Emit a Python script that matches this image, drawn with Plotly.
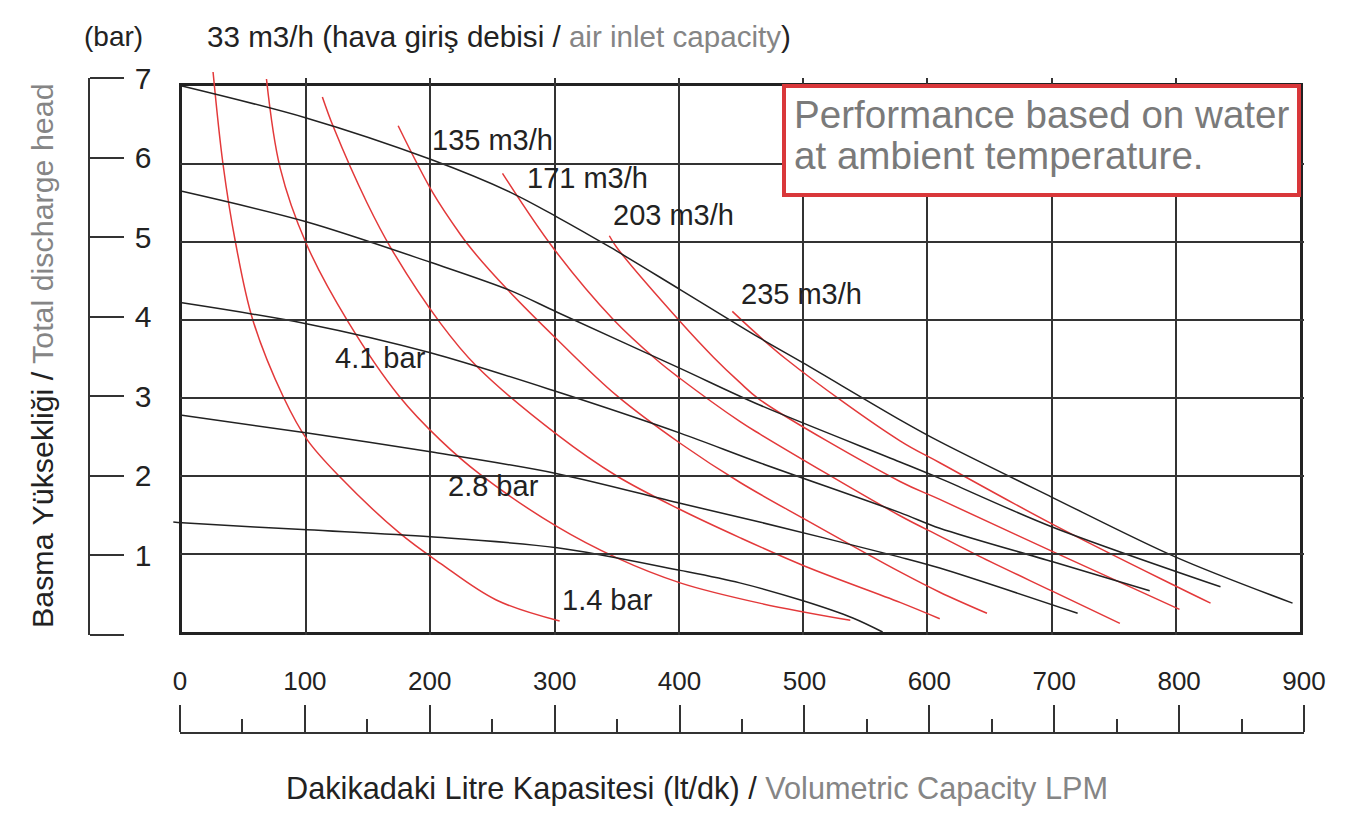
import plotly.graph_objects as go

# ---------------- data ----------------
x_ticks = [0, 100, 200, 300, 400, 500, 600, 700, 800, 900]
y_ticks = [0, 1, 2, 3, 4, 5, 6, 7]
y_tick_text = ["", "1", "2", "3", "4", "5", "6", "7"]

# black curves: air inlet pressure (bar)
p70_lpm = [0, 100, 200, 264, 302, 345, 401, 465, 500, 578, 610, 700, 800, 894]
p70_bar = [7.0, 6.59, 6.06, 5.64, 5.32, 4.93, 4.39, 3.77, 3.45, 2.72, 2.44, 1.73, 0.96, 0.37]
p55_lpm = [0, 100, 200, 264, 302, 401, 465, 578, 610, 700, 836]
p55_bar = [5.65, 5.26, 4.74, 4.38, 4.10, 3.38, 2.91, 2.18, 1.97, 1.35, 0.58]
p41_lpm = [0, 101, 200, 302, 401, 465, 578, 610, 701, 779]
p41_bar = [4.22, 3.95, 3.58, 3.08, 2.55, 2.17, 1.53, 1.33, 0.90, 0.53]
p28_lpm = [0, 101, 200, 302, 401, 465, 578, 610, 721]
p28_bar = [2.78, 2.55, 2.31, 2.03, 1.65, 1.41, 0.96, 0.82, 0.24]
p14_lpm = [-7, 0, 101, 200, 302, 401, 449, 500, 540, 564]
p14_bar = [1.41, 1.40, 1.31, 1.22, 1.08, 0.79, 0.63, 0.40, 0.18, 0.0]

# red curves: air consumption (m3/h)
a33_lpm = [25, 33, 43, 57, 82, 101, 127, 175, 208, 253, 304]
a33_bar = [7.18, 6.0, 5.0, 4.0, 3.0, 2.46, 1.99, 1.27, 0.88, 0.41, 0.14]
a69_lpm = [68, 79, 100, 134, 175, 208, 240, 302, 350, 401, 465, 538]
a69_bar = [7.09, 5.95, 4.98, 3.97, 3.02, 2.46, 2.02, 1.35, 0.95, 0.63, 0.37, 0.15]
a102_lpm = [113, 122, 149, 169, 208, 237, 302, 350, 401, 449, 502, 578, 610]
a102_bar = [6.86, 6.47, 5.50, 4.90, 3.96, 3.41, 2.53, 2.0, 1.57, 1.21, 0.84, 0.38, 0.17]
a135_lpm = [174, 202, 224, 234, 262, 302, 350, 401, 449, 502, 578, 610, 648]
a135_bar = [6.49, 5.63, 5.10, 4.89, 4.39, 3.75, 3.03, 2.42, 1.92, 1.44, 0.77, 0.51, 0.24]
a171_lpm = [258, 299, 347, 382, 401, 449, 465, 578, 610, 642, 701, 755]
a171_bar = [5.88, 4.92, 4.01, 3.49, 3.25, 2.70, 2.54, 1.49, 1.23, 0.97, 0.52, 0.11]
a203_lpm = [344, 350, 401, 428, 449, 465, 578, 610, 701, 803]
a203_bar = [5.08, 4.93, 3.98, 3.52, 3.20, 2.98, 1.93, 1.70, 1.03, 0.29]
a235_lpm = [443, 487, 578, 610, 701, 801, 828]
a235_bar = [4.11, 3.49, 2.45, 2.17, 1.38, 0.58, 0.37]

# curve labels (text, lpm of left edge, bar of centre)
label_text = ["69 m3/h", "135 m3/h", "171 m3/h", "203 m3/h", "235 m3/h",
              "4.1 bar", "2.8 bar", "1.4 bar"]
label_lpm = [68.0, 199.8, 276.2, 345.5, 448.5, 121.8, 212.6, 304.4]
label_bar = [7.17, 6.31, 5.82, 5.35, 4.33, 3.51, 1.87, 0.41]

black_curves = [(p70_lpm, p70_bar), (p55_lpm, p55_bar), (p41_lpm, p41_bar),
                (p28_lpm, p28_bar), (p14_lpm, p14_bar)]
red_curves = [(a33_lpm, a33_bar), (a69_lpm, a69_bar), (a102_lpm, a102_bar),
              (a135_lpm, a135_bar), (a171_lpm, a171_bar), (a203_lpm, a203_bar),
              (a235_lpm, a235_bar)]

# ---------------- layout geometry (pixels) ----------------
W, H = 1354, 839
PX_L, PX_R, PY_T, PY_B = 182, 1300, 86, 632      # main grid box
XMAX, YMAX = 900, 7
kx = (PX_R - PX_L) / XMAX
ky = (PY_B - PY_T) / YMAX
EX_L, EX_R, EY_T, EY_B = 160, 1320, 55, 650      # extended drawing area

def px(x):
    return x / W

def py(y):
    return 1 - y / H

DARK = "#222222"
GRAY = "#858585"
RED = "#e3393a"
FONT = "Liberation Sans, Arial, sans-serif"

fig = go.Figure()

# anchor traces (invisible) for the axis frames
fig.add_trace(go.Scatter(x=[0], y=[0], xaxis="x", yaxis="y", mode="markers",
                         marker=dict(opacity=0), hoverinfo="skip", showlegend=False))
fig.add_trace(go.Scatter(x=[0], y=[0], xaxis="x3", yaxis="y", mode="markers",
                         marker=dict(opacity=0), hoverinfo="skip", showlegend=False))
fig.add_trace(go.Scatter(x=[0], y=[0], xaxis="x", yaxis="y3", mode="markers",
                         marker=dict(opacity=0), hoverinfo="skip", showlegend=False))

for xs, ys in red_curves:
    fig.add_trace(go.Scatter(x=xs, y=ys, xaxis="x2", yaxis="y2", mode="lines",
                             line=dict(color=RED, width=1.5, shape="spline", smoothing=1.0),
                             hoverinfo="skip", showlegend=False))
for xs, ys in black_curves:
    fig.add_trace(go.Scatter(x=xs, y=ys, xaxis="x2", yaxis="y2", mode="lines",
                             line=dict(color=DARK, width=1.5, shape="spline", smoothing=0.9),
                             hoverinfo="skip", showlegend=False))

annotations = []
for t, lx, ly in zip(label_text, label_lpm, label_bar):
    annotations.append(dict(x=lx, y=ly, xref="x", yref="y", text=t, showarrow=False,
                            xanchor="left", yanchor="middle",
                            font=dict(size=29, color=DARK, family=FONT)))

annotations += [
    dict(x=px(82), y=py(37), xref="paper", yref="paper", text="(bar)", showarrow=False,
         xanchor="left", yanchor="middle", font=dict(size=28, color=DARK, family=FONT)),
    dict(x=px(205), y=py(37), xref="paper", yref="paper",
         text="33 m3/h (hava giriş debisi / <span style='color:%s'>air inlet capacity</span>)" % GRAY,
         showarrow=False, xanchor="left", yanchor="middle",
         font=dict(size=29.6, color=DARK, family=FONT)),
    dict(x=px(42), y=py(356), xref="paper", yref="paper", textangle=-90,
         text="Basma Yüksekliği / <span style='color:%s'>Total discharge head</span>" % GRAY,
         showarrow=False, xanchor="center", yanchor="middle",
         font=dict(size=30.4, color=DARK, family=FONT)),
    dict(x=px(697), y=py(788), xref="paper", yref="paper",
         text="Dakikadaki Litre Kapasitesi (lt/dk) / <span style='color:%s'>Volumetric Capacity LPM</span>" % GRAY,
         showarrow=False, xanchor="center", yanchor="middle",
         font=dict(size=30.7, color=DARK, family=FONT)),
    dict(x=px(792), y=py(114), xref="paper", yref="paper", text="Performance based on water",
         showarrow=False, xanchor="left", yanchor="middle",
         font=dict(size=38.6, color="#7a7a7a", family=FONT)),
    dict(x=px(792), y=py(156), xref="paper", yref="paper", text="at ambient temperature.",
         showarrow=False, xanchor="left", yanchor="middle",
         font=dict(size=38.6, color="#7a7a7a", family=FONT)),
]

shapes = [
    dict(type="rect", xref="paper", yref="paper", x0=px(784), x1=px(1299),
         y0=py(195), y1=py(86), line=dict(color="#d9373a", width=4),
         fillcolor="white", layer="above"),
]

fig.update_layout(
    width=W, height=H, autosize=False,
    margin=dict(l=0, r=0, t=0, b=0, pad=0, autoexpand=False),
    paper_bgcolor="white",
    plot_bgcolor="rgba(0,0,0,0)",
    showlegend=False,
    font=dict(family=FONT, color=DARK),
    annotations=annotations,
    shapes=shapes,
    xaxis=dict(domain=[px(PX_L), px(PX_R)], range=[0, XMAX], anchor="y",
               tickvals=x_ticks, showticklabels=False, ticks="", automargin=False,
               showgrid=True, gridcolor="#333333", gridwidth=1.5,
               showline=True, linecolor="#222222", linewidth=3, mirror=True,
               zeroline=False, fixedrange=True),
    yaxis=dict(domain=[py(PY_B), py(PY_T)], range=[0, YMAX], anchor="x",
               tickvals=y_ticks, showticklabels=False, ticks="", automargin=False,
               showgrid=True, gridcolor="#333333", gridwidth=1.5,
               showline=True, linecolor="#222222", linewidth=3, mirror=True,
               zeroline=False, fixedrange=True),
    xaxis2=dict(domain=[px(EX_L), px(EX_R)],
                range=[(EX_L - PX_L) / kx, (EX_R - PX_L) / kx],
                anchor="y2", visible=False, fixedrange=True, automargin=False),
    yaxis2=dict(domain=[py(EY_B), py(EY_T)],
                range=[(PY_B - EY_B) / ky, (PY_B - EY_T) / ky],
                anchor="x2", visible=False, fixedrange=True, automargin=False),
    xaxis3=dict(domain=[px(180), px(1304)], range=[0, XMAX], anchor="free",
                position=py(733), side="top", tickvals=x_ticks, automargin=False,
                ticks="outside", ticklen=27, tickwidth=1.5, tickcolor="#333333",
                showline=True, linecolor="#333333", linewidth=1.5,
                showgrid=False, zeroline=False, ticklabelstandoff=5,
                tickfont=dict(size=26, color=DARK, family=FONT),
                minor=dict(dtick=50, tick0=0, ticks="outside", ticklen=13,
                           tickwidth=1.5, tickcolor="#333333", showgrid=False),
                fixedrange=True),
    yaxis3=dict(domain=[py(635), py(78)], range=[0, YMAX], anchor="free",
                position=px(89), side="right", tickvals=y_ticks, ticktext=y_tick_text,
                ticks="outside", ticklen=34, tickwidth=1.5, tickcolor="#333333",
                showline=True, linecolor="#333333", linewidth=1.5, automargin=False,
                showgrid=False, zeroline=False, ticklabelstandoff=5,
                tickfont=dict(size=30, color=DARK, family=FONT),
                fixedrange=True),
)

fig.write_html("out.html")
